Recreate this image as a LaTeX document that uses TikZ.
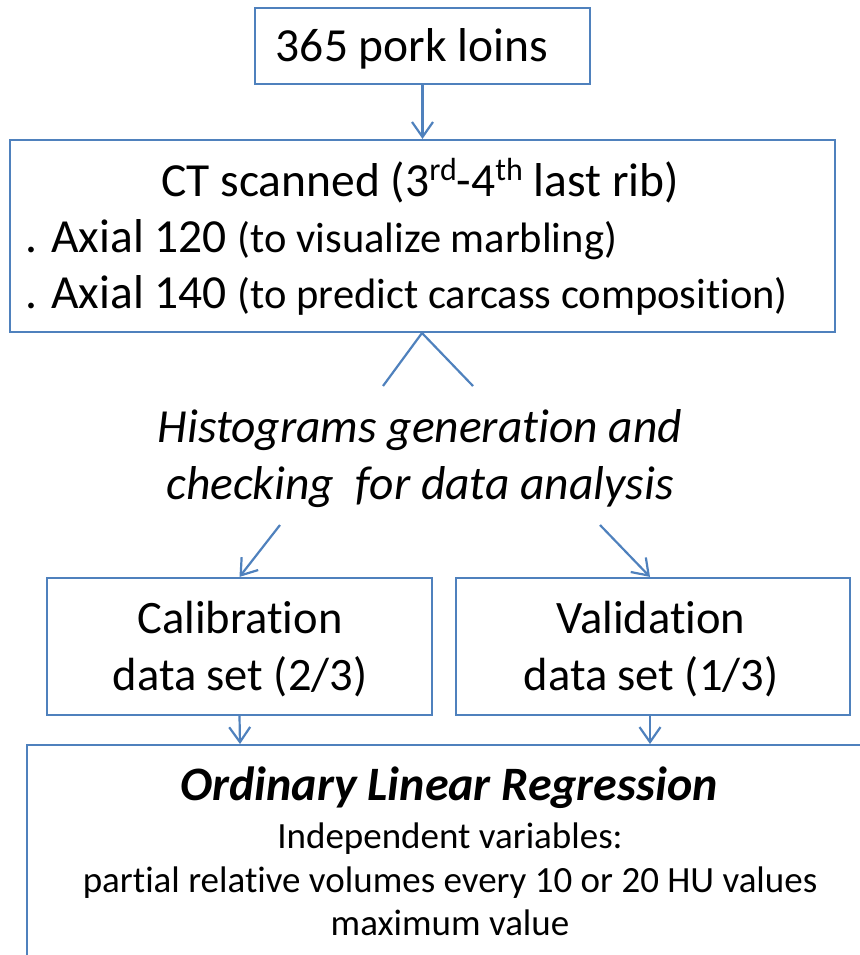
\documentclass[tikz,border=0pt]{standalone}
\usepackage{fontspec}
\setmainfont{Carlito}[Ligatures={NoCommon}]
\usetikzlibrary{arrows.meta}
\definecolor{obl}{HTML}{4F81BD}
\newcommand{\supr}[1]{\raisebox{16pt}{\fontsize{32}{32}\selectfont #1}}
\newcommand{\tibrk}{t\kern0pt i}
\tikzset{
  boxline/.style={draw=obl, line width=2.2pt},
  conn/.style={draw=obl, line width=2.2pt, -{Straight Barb[length=15pt,width=21pt,line width=2.2pt]}},
  plain/.style={draw=obl, line width=2.2pt},
  big/.style={font=\fontsize{47.5}{54}\selectfont, inner sep=0pt, anchor=base},
  boxtxt/.style={font=\fontsize{46.5}{54}\selectfont, inner sep=0pt, anchor=base},
  mid/.style={font=\fontsize{37}{42}\selectfont, inner sep=0pt, anchor=base},
}
\begin{document}
\begin{tikzpicture}[x=1pt,y=-1pt]
\useasboundingbox (0,0) rectangle (859,955);
% boxes
\node[boxline, minimum width=335pt, minimum height=76pt, inner sep=0pt] (loins) at (422.5,46) {};
\node[big] (loinst) at (412,62) {365 pork loins};
\node[boxline, minimum width=825pt, minimum height=192pt, inner sep=0pt] (ct) at (422.5,236) {};
\node[big] (ct1) at (420,196) {CT scanned (3\supr{rd}-4\supr{th} last rib)};
\node[big, anchor=base west] (ct2) at (25,252) {. Axial 120 {\fontsize{42.5}{46}\selectfont(to visualize marbling)}};
\node[big, anchor=base west] (ct3) at (25,308) {. Axial 140 {\fontsize{42.5}{46}\selectfont(to predict carcass composi\tibrk on)}};
% caret
\coordinate (capex) at (422,333);
\coordinate (cl) at (383,386);
\coordinate (cr) at (473,386);
\draw[plain] (cl) -- (capex) -- (cr);
% italic text
\node[big, font=\fontsize{47.5}{54}\selectfont\itshape] (h1) at (420,442) {Histograms genera\tibrk on and};
\node[big, font=\fontsize{47.5}{54}\selectfont\itshape] (h2) at (420,499) {checking\ \ for data analysis};
\coordinate (al) at (280,525);
\coordinate (ar) at (600,525);
% data set boxes
\node[boxline, minimum width=385pt, minimum height=137pt, inner sep=0pt] (cal) at (239.5,646.5) {};
\node[boxtxt] (cal1) at (240,633) {Calibra\tibrk on};
\node[boxtxt] (cal2) at (240,690) {data set (2/3)};
\node[boxline, minimum width=394pt, minimum height=137pt, inner sep=0pt] (val) at (653,646.5) {};
\node[boxtxt] (val1) at (651,633) {Valida\tibrk on};
\node[boxtxt] (val2) at (651,690) {data set (1/3)};
% bottom box (partial)
\coordinate (bl) at (27,960);
\coordinate (btl) at (27,745);
\coordinate (btr) at (865,745);
\draw[plain] (bl) -- (btl) -- (btr);
\coordinate (rin1) at (240,744);
\coordinate (rin2) at (650,744);
\node[big, font=\fontsize{48}{54}\selectfont\bfseries\itshape] (reg) at (449,800) {Ordinary Linear Regression};
\node[mid] (r1) at (450,848) {Independent variables:};
\node[mid] (r2) at (450,892) {par\tibrk al rela\tibrk ve volumes every 10 or 20 HU values};
\node[mid] (r3) at (450,935) {maximum value};
% connectors
\draw[conn] (loins.south) -- (ct.north -| loins.south);
\draw[conn] (al) -- (cal.north);
\draw[conn] (ar) -- (val.north -| rin2);
\draw[conn] (cal.south) -- (rin1);
\draw[conn] (val.south -| rin2) -- (rin2);
\end{tikzpicture}
\end{document}
